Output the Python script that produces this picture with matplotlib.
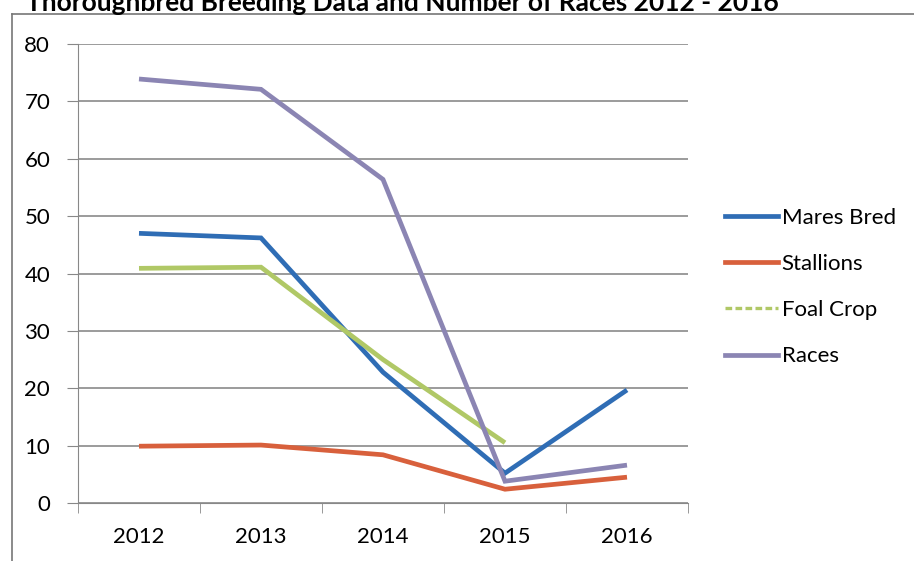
import numpy as np
import matplotlib
matplotlib.use("Agg")
import matplotlib.pyplot as plt
from matplotlib.lines import Line2D

# Data
years = ["2012", "2013", "2014", "2015", "2016"]
mares_bred = [47.0, 46.2, 22.8, 5.2, 19.7]
stallions = [9.9, 10.1, 8.4, 2.4, 4.5]
foal_crop = [40.9, 41.1, 25.0, 10.5, np.nan]
races = [73.9, 72.1, 56.4, 3.8, 6.6]

series = [
    ("Mares Bred", mares_bred, "#2F6DB5"),
    ("Stallions", stallions, "#D8603C"),
    ("Foal Crop", foal_crop, "#B0C866"),
    ("Races", races, "#8B85B3"),
]

plt.rcParams['font.family'] = ['Lato', 'DejaVu Sans']

fig = plt.figure(figsize=(9.14, 5.61), dpi=100)
ax = fig.add_axes([78 / 914, 1 - 503 / 561, (688 - 78) / 914, (503 - 44) / 561])

x = np.arange(len(years))
for name, vals, col in series:
    ax.plot(x, vals, color=col, lw=3.4, solid_capstyle='butt', solid_joinstyle='miter', label=name)

ax.set_xlim(-0.5, len(years) - 0.5)
ax.set_ylim(0, 80)
ax.set_yticks(np.arange(0, 81, 10))
ax.set_xticks(x)
ax.set_xticklabels(years)
ax.set_xticks(np.arange(-0.5, len(years), 1), minor=True)
ax.tick_params(axis='x', which='major', length=0, pad=17, labelsize=16)
ax.tick_params(axis='x', which='minor', length=7, color='#888888', direction='out')
ax.tick_params(axis='y', length=8, color='#888888', pad=12, labelsize=16)

ax.grid(axis='y', color='#808080', lw=1.1)
ax.set_axisbelow(True)
for s in ['top', 'right']:
    ax.spines[s].set_visible(False)
ax.spines['left'].set_color('#888888')
ax.spines['bottom'].set_color('#888888')

# legend handles (foal crop shows a faint dashed swatch)
handles = [
    Line2D([], [], color="#2F6DB5", lw=3.4),
    Line2D([], [], color="#D8603C", lw=3.4),
    Line2D([], [], color="#B0C866", lw=2.4, ls=(0, (2, 1))),
    Line2D([], [], color="#8B85B3", lw=3.4),
]
fig.legend(handles, [s[0] for s in series], loc='center left',
           bbox_to_anchor=(725 / 914, 1 - 287 / 561), frameon=False, borderpad=0,
           borderaxespad=0, fontsize=16, handlelength=2.4, handletextpad=0.15,
           labelspacing=1.18)

# outer frame of the original chart box
fig.add_artist(Line2D([12 / 914, 12 / 914], [0, 1 - 14 / 561], color='#777777', lw=1.2))
fig.add_artist(Line2D([12 / 914, 1], [1 - 14 / 561, 1 - 14 / 561], color='#777777', lw=1.2))

# title is clipped at the top of the picture
fig.text(402 / 914, 1 - 11 / 561, "Thoroughbred Breeding Data and Number of Races 2012 - 2016",
         ha='center', va='baseline', fontsize=19, fontweight='bold')

fig.savefig("out.png", dpi=100)
